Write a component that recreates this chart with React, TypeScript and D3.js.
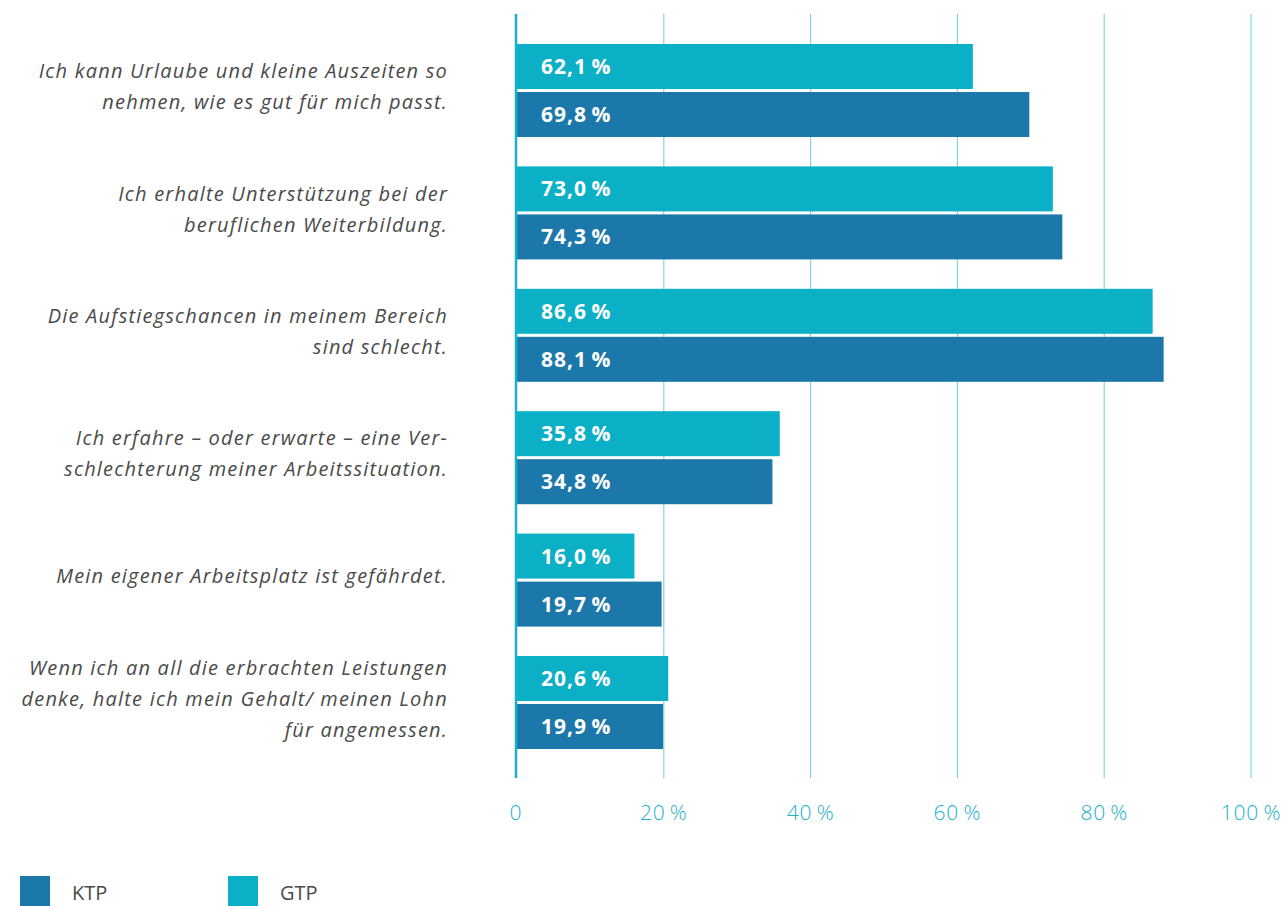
import React from "react";
import * as d3 from "d3";

const categories: string[][] = [
  ["Ich kann Urlaube und kleine Auszeiten so", "nehmen, wie es gut für mich passt."],
  ["Ich erhalte Unterstützung bei der", "beruflichen Weiterbildung."],
  ["Die Aufstiegschancen in meinem Bereich", "sind schlecht."],
  ["Ich erfahre –  oder erwarte – eine Ver-", "schlechterung meiner Arbeitssituation."],
  ["Mein eigener Arbeitsplatz ist gefährdet."],
  ["Wenn ich an all die erbrachten Leistungen", "denke, halte ich mein Gehalt/ meinen Lohn", "für angemessen."],
];
const gtpValues = [62.1, 73.0, 86.6, 35.8, 16.0, 20.6];
const ktpValues = [69.8, 74.3, 88.1, 34.8, 19.7, 19.9];
const series = ["GTP", "KTP"];
const tickValues = [0, 20, 40, 60, 80, 100];

const COLORS: Record<string, string> = { GTP: "#0bb0c6", KTP: "#1c78aa" };

export default function App() {
  const W = 1281, H = 906;
  const x = d3.scaleLinear().domain([0, 100]).range([517, 1251]);
  const ids = categories.map((_, i) => String(i));
  const y = d3.scaleBand<string>().domain(ids).range([44, 749]).paddingInner(0.24).paddingOuter(0);
  const ySub = d3.scaleBand<string>().domain(series).range([0, y.bandwidth()]).paddingInner(0.0625);
  const fmt = (v: number) => v.toFixed(1).replace(".", ",") + "\u2009%";
  const lineH = 31;

  return (
    <svg width={W} height={H} style={{ position: "absolute", left: 0, top: 0 }} fontFamily="'Open Sans', sans-serif">
      <rect width={W} height={H} fill="#fff" />
      {tickValues.filter(t => t > 0).map(t => (
        <line key={t} x1={x(t)} x2={x(t)} y1={14} y2={778} stroke="#86d4df" strokeWidth={1.2} />
      ))}
      {ids.map((id, i) => {
        const vals: Record<string, number> = { GTP: gtpValues[i], KTP: ktpValues[i] };
        const y0 = y(id)!;
        const lines = categories[i];
        const cy = y0 + y.bandwidth() / 2 - 4;
        return (
          <g key={id}>
            {series.map(s => (
              <g key={s}>
                <rect x={x(0)} y={y0 + ySub(s)!} width={x(vals[s]) - x(0)} height={ySub.bandwidth()} fill={COLORS[s]} />
                <text x={541} y={y0 + ySub(s)! + ySub.bandwidth() / 2} dy="0.36em" fill="#fff" fontWeight={700} fontSize={21} letterSpacing={1}>
                  {fmt(vals[s])}
                </text>
              </g>
            ))}
            {lines.map((l, j) => (
              <text key={j} x={448} y={cy + (j - (lines.length - 1) / 2) * lineH} dy="0.36em" textAnchor="end"
                fontStyle="italic" fontSize={20} letterSpacing={1.2} fill="#4a4a4a">{l}</text>
            ))}
          </g>
        );
      })}
      <line x1={x(0) - 1} x2={x(0) - 1} y1={14} y2={778} stroke="#1ab0c8" strokeWidth={2.5} />
      {tickValues.map(t => (
        <text key={t} x={t === 0 ? x(0) - 1 : x(t)} y={812} dy="0.36em" textAnchor="middle" fill="#1ab0c8" fontWeight={300} fontSize={21} letterSpacing={0.8}>
          {t === 0 ? "0" : t + "\u2009%"}
        </text>
      ))}
      {[{ s: "KTP", x: 20, tx: 72 }, { s: "GTP", x: 228, tx: 280 }].map(l => (
        <g key={l.s}>
          <rect x={l.x} y={876} width={30} height={30} fill={COLORS[l.s]} />
          <text x={l.tx} y={893} dy="0.36em" fontSize={20} fill="#4a4a4a">{l.s}</text>
        </g>
      ))}
    </svg>
  );
}
